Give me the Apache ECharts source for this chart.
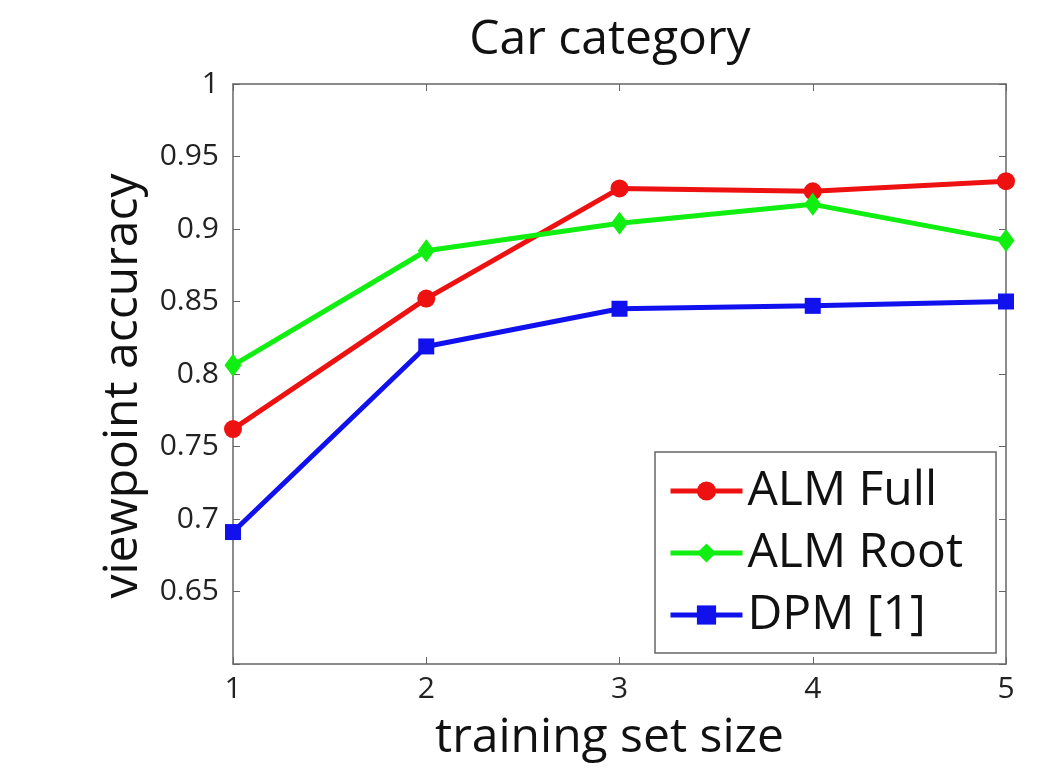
<!DOCTYPE html>
<html>
<head>
<meta charset="utf-8">
<script src="https://cdn.jsdelivr.net/npm/echarts@6/dist/echarts.min.js"></script>
<style>
  html, body { margin: 0; padding: 0; background: #fff; }
  #main { width: 1057px; height: 768px; }
</style>
</head>
<body>
<div id="main"></div>
<script>
// training set sizes on the x axis
var sizes = [1, 2, 3, 4, 5];
var almFull = [0.762, 0.852, 0.928, 0.926, 0.933];
var almRoot = [0.806, 0.885, 0.904, 0.917, 0.892];
var dpm = [0.691, 0.819, 0.845, 0.847, 0.850];

function pairs(ys) {
    return sizes.map(function (x, i) { return [x, ys[i]]; });
}

var font = '"Open Sans", "Noto Sans", sans-serif';
var axisGray = '#666';

var chart = echarts.init(document.getElementById('main'));
chart.setOption({
    backgroundColor: '#fff',
    animation: false,
    title: {
        text: 'Car category',
        left: 605,
        textAlign: 'center',
        top: 11,
        textStyle: { fontFamily: font, fontSize: 48, fontWeight: 'normal', color: '#111' }
    },
    grid: { left: 233, right: 51, top: 84, bottom: 104 },
    legend: {
        orient: 'vertical',
        left: 655,
        top: 452,
        padding: [15, 33, 14, 13],
        borderColor: '#666',
        borderWidth: 1.5,
        itemGap: 14,
        itemWidth: 72,
        itemHeight: 24,
        lineStyle: { width: 5 },
        textStyle: { fontFamily: font, fontSize: 48, color: '#111' },
        data: ['ALM Full', 'ALM Root', 'DPM [1]']
    },
    xAxis: [{
        type: 'value',
        min: 1, max: 5, interval: 1,
        name: 'training set size',
        nameLocation: 'middle',
        nameGap: 50,
        nameTextStyle: { fontFamily: font, fontSize: 48, color: '#111', padding: [0, 20, 0, 0] },
        axisLine: { lineStyle: { color: axisGray, width: 1.5 } },
        axisTick: { inside: true, length: 7, lineStyle: { color: axisGray } },
        axisLabel: { fontFamily: font, fontSize: 30, color: '#222', margin: 10 },
        splitLine: { show: false }
    }, {
        type: 'value', position: 'top',
        min: 1, max: 5, interval: 1,
        axisLine: { show: true, lineStyle: { color: axisGray, width: 1.5 } },
        axisTick: { inside: true, length: 7, lineStyle: { color: axisGray } },
        axisLabel: { show: false },
        splitLine: { show: false }
    }],
    yAxis: [{
        type: 'value',
        min: 0.6, max: 1, interval: 0.05,
        name: 'viewpoint accuracy',
        nameLocation: 'middle',
        nameGap: 86,
        nameTextStyle: { fontFamily: font, fontSize: 48, color: '#111', padding: [0, 24, 0, 0] },
        axisLine: { show: true, lineStyle: { color: axisGray, width: 1.5 } },
        axisTick: { inside: true, length: 7, lineStyle: { color: axisGray } },
        axisLabel: {
            fontFamily: font, fontSize: 30, color: '#222', margin: 14,
            formatter: function (v) {
                if (Math.abs(v - 0.6) < 1e-6) return '';
                return String(+v.toFixed(2));
            }
        },
        splitLine: { show: false }
    }, {
        type: 'value', position: 'right',
        min: 0.6, max: 1, interval: 0.05,
        axisLine: { show: true, lineStyle: { color: axisGray, width: 1.5 } },
        axisTick: { inside: true, length: 7, lineStyle: { color: axisGray } },
        axisLabel: { show: false },
        splitLine: { show: false }
    }],
    series: [{
        name: 'ALM Full',
        type: 'line',
        data: pairs(almFull),
        symbol: 'circle',
        symbolSize: 18,
        color: '#ee1111',
        lineStyle: { width: 5 },
        itemStyle: { color: '#ee1111' }
    }, {
        name: 'ALM Root',
        type: 'line',
        data: pairs(almRoot),
        symbol: 'diamond',
        symbolSize: [17, 23],
        color: '#11ee11',
        lineStyle: { width: 5 },
        itemStyle: { color: '#11ee11' }
    }, {
        name: 'DPM [1]',
        type: 'line',
        data: pairs(dpm),
        symbol: 'rect',
        symbolSize: 16,
        color: '#1111ee',
        lineStyle: { width: 5 },
        itemStyle: { color: '#1111ee' }
    }]
});
</script>
</body>
</html>
